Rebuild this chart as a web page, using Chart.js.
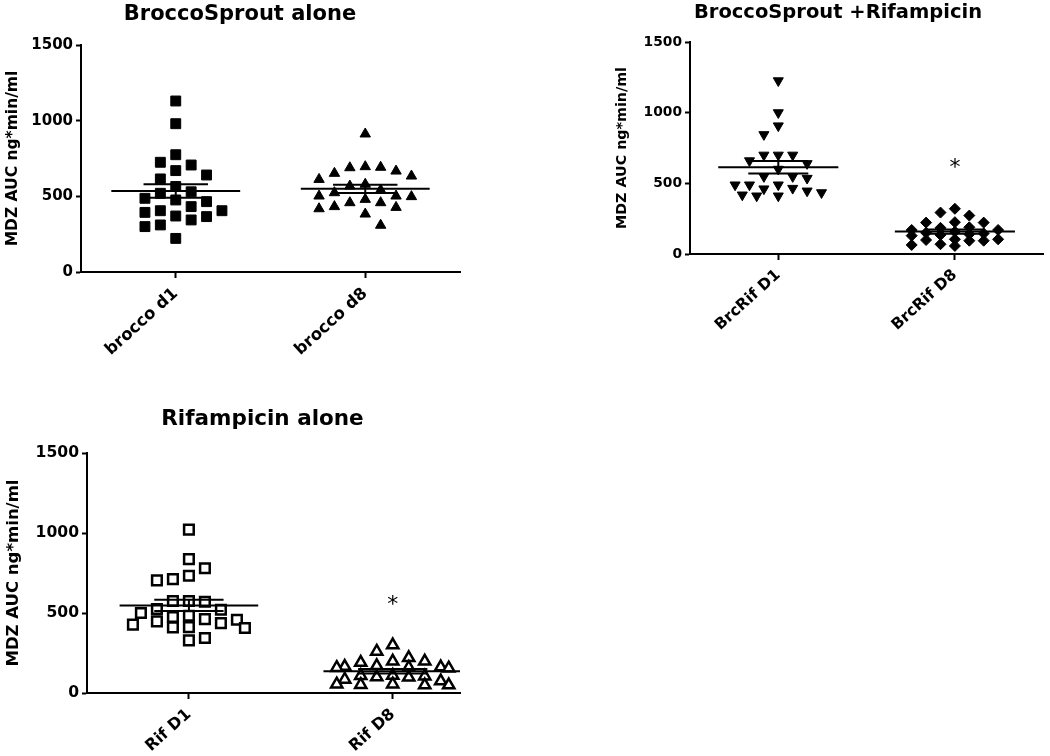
<!DOCTYPE html>
<html>
<head>
<meta charset="utf-8">
<script src="https://cdn.jsdelivr.net/npm/chart.js@4.4.1/dist/chart.umd.min.js"></script>
<style>
  body { margin: 0; background: #fff; width: 1050px; height: 756px; position: relative; overflow: hidden; }
  canvas { position: absolute; }
</style>
</head>
<body>
<canvas id="broccoChart"></canvas>
<canvas id="brcRifChart"></canvas>
<canvas id="rifChart"></canvas>
<script>
// Values (MDZ AUC, ng*min/ml)
const broccoCats = ['brocco d1', 'brocco d8'];
const broccoD1 = [1130, 980, 775, 725, 707, 670, 641, 615, 565, 530, 520, 487, 476, 465, 432, 405, 405, 394, 370, 366, 344, 311, 300, 222];
const broccoD8 = [912, 696, 692, 689, 667, 652, 634, 612, 580, 568, 542, 524, 502, 502, 498, 480, 458, 458, 432, 427, 418, 383, 309];

const brcRifCats = ['BrcRif D1', 'BrcRif D8'];
const brcRifD1 = [1226, 1000, 907, 845, 700, 700, 700, 660, 640, 600, 548, 548, 536, 489, 489, 489, 465, 461, 446, 434, 418, 411, 411];
const brcRifD8 = [320, 293, 272, 225, 222, 222, 189, 185, 170, 170, 158, 150, 145, 140, 135, 130, 104, 104, 99, 94, 94, 69, 64, 57];

const rifCats = ['Rif D1', 'Rif D8'];
const rifD1 = [1021, 837, 780, 733, 712, 704, 575, 575, 570, 525, 520, 500, 483, 475, 462, 458, 448, 437, 427, 412, 410, 406, 344, 329];
const rifD8 = [300, 260, 220, 198, 198, 190, 170, 165, 162, 160, 158, 155, 110, 108, 105, 100, 98, 85, 75, 55, 52, 50, 50, 55];

const yTicks = [0, 500, 1000, 1500];
const yTitle = 'MDZ AUC ng*min/ml';
const titles = ['BroccoSprout alone', 'BroccoSprout +Rifampicin', 'Rifampicin alone'];
// asterisk heights (y value) above day 8 groups
const starBrcRif = 650;
const starRif = 583;

const FONT = '"DejaVu Sans", sans-serif';

// Spread points sideways so they don't overlap (Prism style dot plot)
function swarmOffsets(values, pxPerY, step, maxK, boxW, boxH) {
  const order = values.map((v, i) => i).sort((a, b) => values[b] - values[a]);
  const placed = [];
  const offsets = [];
  order.forEach((i, n) => {
    const y = values[i] * pxPerY;
    const flip = n % 2 ? -1 : 1;
    let best = 0, bestHit = Infinity;
    for (let j = 0; j <= 2 * maxK; j++) {
      const k = j === 0 ? 0 : (j % 2 ? (j + 1) / 2 : -j / 2) * flip;
      const x = k * step;
      let hit = 0;
      placed.forEach(p => {
        const dx = Math.abs(p.x - x), dy = Math.abs(p.y - y);
        if (dx < boxW && dy < boxH) hit += (boxW - dx) * (boxH - dy);
      });
      if (hit < bestHit) { bestHit = hit; best = x; }
      if (hit === 0) break;
    }
    placed.push({ x: best, y: y });
    offsets[i] = best;
  });
  return offsets;
}

function meanSem(values) {
  const n = values.length;
  const m = values.reduce((a, b) => a + b, 0) / n;
  const sd = Math.sqrt(values.reduce((a, v) => a + (v - m) * (v - m), 0) / (n - 1));
  return [m, sd / Math.sqrt(n)];
}

// mean line, SEM caps and the connecting bar
function summarySegments(c, values) {
  const [m, se] = meanSem(values);
  return [
    [{ x: c - 0.34, y: m }, { x: c + 0.34, y: m }],
    [{ x: c - 0.17, y: m + se }, { x: c + 0.17, y: m + se }],
    [{ x: c - 0.17, y: m - se }, { x: c + 0.17, y: m - se }],
    [{ x: c, y: m - se }, { x: c, y: m + se }]
  ];
}

function makeDotPlot(id, p) {
  const canvas = document.getElementById(id);
  canvas.width = p.w;
  canvas.height = p.h;
  canvas.style.left = p.left + 'px';
  canvas.style.top = p.top + 'px';
  canvas.style.width = p.w + 'px';
  canvas.style.height = p.h + 'px';

  const plotW = p.w - p.yWidth - p.padRight;
  const plotH = p.h - p.padTop - p.xHeight;
  const pxPerX = plotW / (p.xMax - 0.5);
  const pxPerY = plotH / 1500;

  const datasets = [];
  p.groups.forEach((vals, gi) => {
    const c = gi + 1;
    const mk = p.markers[gi];
    const offs = swarmOffsets(vals, pxPerY, p.step, p.maxK, p.boxW, p.boxH);
    datasets.push({
      data: vals.map((v, i) => ({ x: c + offs[i] / pxPerX, y: v })),
      pointStyle: mk.style,
      pointRotation: mk.rotation || 0,
      pointRadius: mk.r,
      backgroundColor: mk.fill,
      borderColor: '#000',
      borderWidth: mk.border,
      order: 2
    });
    summarySegments(c, vals).forEach(seg => datasets.push({
      data: seg,
      showLine: true,
      borderColor: '#000',
      borderWidth: 2,
      pointRadius: 0,
      order: 1
    }));
  });

  const extras = {
    id: 'extras',
    afterDraw(chart) {
      const ctx = chart.ctx;
      ctx.save();
      ctx.fillStyle = '#000';
      ctx.textAlign = 'center';
      ctx.textBaseline = 'alphabetic';
      ctx.font = 'bold ' + p.titleSize + 'px ' + FONT;
      ctx.fillText(p.title, p.titleX, p.titleY);
      if (p.star != null) {
        const x = chart.scales.x.getPixelForValue(2);
        const y = chart.scales.y.getPixelForValue(p.star);
        ctx.font = 'normal 22px ' + FONT;
        ctx.textBaseline = 'middle';
        ctx.fillText('*', x, y + 6);
      }
      ctx.restore();
    }
  };

  return new Chart(canvas, {
    type: 'scatter',
    data: { datasets: datasets },
    options: {
      responsive: false,
      animation: false,
      layout: { padding: { top: p.padTop, right: p.padRight, left: 0, bottom: 0 } },
      plugins: { legend: { display: false }, tooltip: { enabled: false } },
      scales: {
        x: {
          type: 'linear',
          min: 0.5,
          max: p.xMax,
          afterBuildTicks: s => { s.ticks = [{ value: 1 }, { value: 2 }]; },
          afterFit: s => { s.height = p.xHeight; },
          border: { display: true, color: '#000', width: 2 },
          grid: { drawOnChartArea: false, drawTicks: true, tickLength: 6, tickWidth: 2, tickColor: '#000' },
          ticks: {
            autoSkip: false,
            minRotation: 42,
            maxRotation: 42,
            padding: 6,
            color: '#000',
            font: { family: FONT, weight: 'bold', size: p.xLabelSize },
            callback: v => p.cats[v - 1] || ''
          }
        },
        y: {
          min: 0,
          max: 1500,
          afterBuildTicks: s => { s.ticks = yTicks.map(v => ({ value: v })); },
          afterFit: s => { s.width = p.yWidth; },
          border: { display: true, color: '#000', width: 2 },
          grid: { drawOnChartArea: false, drawTicks: true, tickLength: 5, tickWidth: 2, tickColor: '#000' },
          ticks: {
            padding: 3,
            color: '#000',
            font: { family: FONT, weight: 'bold', size: p.tickSize },
            callback: v => String(v)
          },
          title: {
            display: true,
            text: yTitle,
            color: '#000',
            padding: { top: p.yTitlePad, bottom: 0 },
            font: { family: FONT, weight: 'bold', size: p.yTitleSize }
          }
        }
      }
    },
    plugins: [extras]
  });
}

makeDotPlot('broccoChart', {
  left: 0, top: 0, w: 480, h: 380,
  yWidth: 81, padTop: 45, padRight: 20, xHeight: 108, xMax: 2.5,
  title: titles[0], titleX: 240, titleY: 19.5, titleSize: 21,
  tickSize: 15, yTitleSize: 15.5, yTitlePad: 4, xLabelSize: 16.5,
  cats: broccoCats, groups: [broccoD1, broccoD8],
  markers: [
    { style: 'rect', r: 7, fill: '#000', border: 1 },
    { style: 'triangle', r: 6, fill: '#000', border: 1 }
  ],
  step: 7.7, maxK: 6, boxW: 15, boxH: 13, star: null
});

makeDotPlot('brcRifChart', {
  left: 600, top: 0, w: 450, h: 360,
  yWidth: 90, padTop: 42, padRight: 2, xHeight: 106, xMax: 2.5,
  title: titles[1], titleX: 238, titleY: 17.5, titleSize: 19.5,
  tickSize: 13.8, yTitleSize: 14.3, yTitlePad: 14, xLabelSize: 15.5,
  cats: brcRifCats, groups: [brcRifD1, brcRifD8],
  markers: [
    { style: 'triangle', rotation: 180, r: 5.8, fill: '#000', border: 1 },
    { style: 'rectRot', r: 5.5, fill: '#000', border: 1 }
  ],
  step: 7.3, maxK: 6, boxW: 14, boxH: 11, star: starBrcRif
});

makeDotPlot('rifChart', {
  left: 0, top: 390, w: 480, h: 366,
  yWidth: 87, padTop: 63, padRight: 20, xHeight: 63, xMax: 2.33,
  title: titles[2], titleX: 262.5, titleY: 35, titleSize: 21.5,
  tickSize: 15.6, yTitleSize: 16.5, yTitlePad: 4, xLabelSize: 16,
  cats: rifCats, groups: [rifD1, rifD8],
  markers: [
    { style: 'rect', r: 6.8, fill: '#fff', border: 2.5 },
    { style: 'triangle', r: 6.5, fill: '#fff', border: 2.5 }
  ],
  step: 8, maxK: 7, boxW: 16, boxH: 13, star: starRif
});
</script>
</body>
</html>
